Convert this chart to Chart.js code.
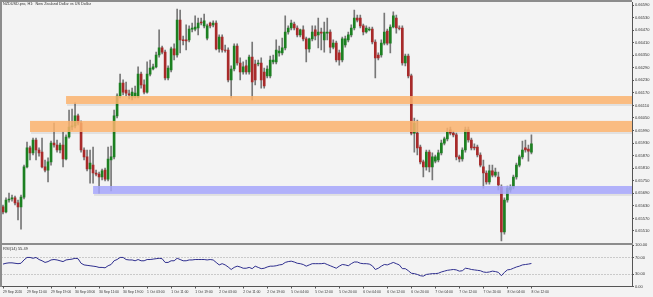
<!DOCTYPE html>
<html>
<head>
<meta charset="utf-8">
<script src="https://cdn.jsdelivr.net/npm/chart.js@4.4.1/dist/chart.umd.min.js"></script>
<style>
    html, body { margin: 0; padding: 0; background: #f3f3f3; }
    body { width: 653px; height: 297px; overflow: hidden; position: relative; font-family: 'Liberation Sans', Arial, sans-serif; }
    canvas { position: absolute; left: 0; }
    #mainCanvas { top: -3px; }
    #rsiCanvas { top: 240px; }
    .line { position: absolute; background: #8c8c8c; z-index: 2; }
    .caption { position: absolute; font-size: 4px; color: #333; white-space: nowrap; z-index: 3; }
</style>
</head>
<body>
<canvas id="mainCanvas" width="653" height="251"></canvas>
<canvas id="rsiCanvas" width="653" height="57"></canvas>
<div class="line" style="left:0;top:0;width:632px;height:1.5px;"></div>
<div class="line" style="left:0;top:0;width:1.5px;height:287px;"></div>
<div class="line" style="left:0;top:243px;width:633px;height:2px;"></div>
<div class="caption" style="left:3px;top:2px;font-size:3.8px;">NZDUSD.pro, H1:&nbsp; New Zealand Dollar vs US Dollar</div>
<div class="caption" style="left:3px;top:246px;">RSI(14) 55.49</div>
<script>
// ===== データ =====
const barCount = 210; // 表示スロット数（右側の余白を含む）

const timeLabels = [
    '29 Sep 2020', '29 Sep 11:00', '29 Sep 19:00', '30 Sep 03:00', '30 Sep 11:00', '30 Sep 19:00',
    '1 Oct 03:00', '1 Oct 11:00', '1 Oct 19:00', '2 Oct 03:00', '2 Oct 11:00', '2 Oct 19:00',
    '5 Oct 04:00', '5 Oct 12:00', '5 Oct 20:00', '6 Oct 04:00', '6 Oct 12:00', '6 Oct 20:00',
    '7 Oct 04:00', '7 Oct 12:00', '7 Oct 20:00', '8 Oct 04:00', '8 Oct 12:00',
];

const opens = [
    0.65625, 0.65601, 0.65658, 0.65663, 0.65668, 0.65644, 0.65625, 0.65672, 0.65816, 0.65907,
    0.65883, 0.65945, 0.65897, 0.65887, 0.65816, 0.65801, 0.65840, 0.65930, 0.65921, 0.65897,
    0.65921, 0.65854, 0.65959, 0.66007, 0.66012, 0.66060, 0.66026, 0.65897, 0.65864, 0.65806,
    0.65825, 0.65787, 0.65782, 0.65768, 0.65801, 0.65758, 0.65849, 0.65864, 0.66060, 0.66155,
    0.66217, 0.66184, 0.66165, 0.66150, 0.66155, 0.66150, 0.66260, 0.66208, 0.66174, 0.66260,
    0.66284, 0.66294, 0.66351, 0.66385, 0.66365, 0.66241, 0.66280, 0.66380, 0.66351, 0.66518,
    0.66423, 0.66423, 0.66423, 0.66475, 0.66475, 0.66480, 0.66509, 0.66490, 0.66432, 0.66504,
    0.66495, 0.66504, 0.66380, 0.66437, 0.66375, 0.66375, 0.66232, 0.66284, 0.66394, 0.66313,
    0.66270, 0.66299, 0.66270, 0.66341, 0.66308, 0.66308, 0.66313, 0.66270, 0.66251, 0.66251,
    0.66318, 0.66318, 0.66361, 0.66361, 0.66385, 0.66461, 0.66480, 0.66499, 0.66480, 0.66447,
    0.66471, 0.66428, 0.66380, 0.66428, 0.66471, 0.66447, 0.66461, 0.66423, 0.66456, 0.66461,
    0.66389, 0.66408, 0.66361, 0.66327, 0.66399, 0.66423, 0.66447, 0.66480, 0.66528, 0.66528,
    0.66490, 0.66461, 0.66471, 0.66475, 0.66413, 0.66351, 0.66351, 0.66408, 0.66466, 0.66408,
    0.66485, 0.66528, 0.66480, 0.66480, 0.66313, 0.66346, 0.66251, 0.65978, 0.65978, 0.65911,
    0.65840, 0.65816, 0.65887, 0.65816, 0.65844, 0.65849, 0.65883, 0.65930, 0.65950, 0.65993,
    0.65978, 0.65969, 0.65864, 0.65854, 0.65897, 0.65993, 0.65945, 0.65911, 0.65911, 0.65873,
    0.65816, 0.65787, 0.65744, 0.65797, 0.65777, 0.65768, 0.65720, 0.65505, 0.65658, 0.65706,
    0.65720, 0.65768, 0.65825, 0.65864, 0.65907, 0.65902, 0.65887,
];

const highs = [
    0.65634, 0.65668, 0.65691, 0.65682, 0.65677, 0.65658, 0.65682, 0.65825, 0.65935, 0.65916,
    0.65954, 0.65954, 0.65907, 0.65954, 0.65849, 0.65859, 0.65940, 0.66026, 0.65945, 0.65930,
    0.65983, 0.65969, 0.66088, 0.66093, 0.66122, 0.66069, 0.66036, 0.65907, 0.65897, 0.65897,
    0.65911, 0.65801, 0.65792, 0.65806, 0.65811, 0.65911, 0.65916, 0.66088, 0.66165, 0.66260,
    0.66232, 0.66222, 0.66184, 0.66193, 0.66203, 0.66294, 0.66270, 0.66232, 0.66318, 0.66327,
    0.66308, 0.66365, 0.66471, 0.66394, 0.66375, 0.66299, 0.66389, 0.66404, 0.66571, 0.66566,
    0.66442, 0.66495, 0.66490, 0.66504, 0.66538, 0.66528, 0.66528, 0.66547, 0.66499, 0.66509,
    0.66514, 0.66514, 0.66447, 0.66447, 0.66399, 0.66385, 0.66299, 0.66404, 0.66404, 0.66337,
    0.66318, 0.66327, 0.66351, 0.66413, 0.66327, 0.66327, 0.66337, 0.66289, 0.66299, 0.66346,
    0.66351, 0.66423, 0.66394, 0.66432, 0.66538, 0.66490, 0.66518, 0.66509, 0.66490, 0.66475,
    0.66490, 0.66437, 0.66432, 0.66490, 0.66490, 0.66528, 0.66480, 0.66509, 0.66528, 0.66471,
    0.66423, 0.66418, 0.66375, 0.66437, 0.66442, 0.66461, 0.66495, 0.66566, 0.66542, 0.66542,
    0.66499, 0.66490, 0.66485, 0.66485, 0.66423, 0.66361, 0.66423, 0.66552, 0.66475, 0.66495,
    0.66557, 0.66542, 0.66490, 0.66490, 0.66356, 0.66356, 0.66260, 0.66050, 0.66040, 0.65921,
    0.65849, 0.65897, 0.65897, 0.65883, 0.65873, 0.65897, 0.65945, 0.65959, 0.66002, 0.66007,
    0.65988, 0.65978, 0.65873, 0.65907, 0.66007, 0.66007, 0.65954, 0.65926, 0.65921, 0.65883,
    0.65849, 0.65797, 0.65825, 0.65825, 0.65811, 0.65792, 0.65730, 0.65668, 0.65725, 0.65730,
    0.65777, 0.65835, 0.65873, 0.65940, 0.65945, 0.65921, 0.65969,
];

const lows = [
    0.65591, 0.65596, 0.65648, 0.65653, 0.65634, 0.65563, 0.65519, 0.65663, 0.65811, 0.65849,
    0.65873, 0.65849, 0.65868, 0.65811, 0.65792, 0.65744, 0.65825, 0.65911, 0.65887, 0.65883,
    0.65816, 0.65849, 0.65954, 0.65993, 0.66002, 0.66017, 0.65887, 0.65849, 0.65797, 0.65739,
    0.65739, 0.65773, 0.65691, 0.65754, 0.65749, 0.65749, 0.65701, 0.65854, 0.66050, 0.66146,
    0.66160, 0.66155, 0.66141, 0.66136, 0.66146, 0.66146, 0.66193, 0.66165, 0.66169, 0.66251,
    0.66280, 0.66289, 0.66341, 0.66356, 0.66232, 0.66232, 0.66270, 0.66327, 0.66341, 0.66361,
    0.66399, 0.66375, 0.66413, 0.66461, 0.66466, 0.66447, 0.66495, 0.66480, 0.66423, 0.66480,
    0.66485, 0.66375, 0.66365, 0.66365, 0.66365, 0.66222, 0.66146, 0.66275, 0.66303, 0.66232,
    0.66260, 0.66260, 0.66260, 0.66136, 0.66208, 0.66299, 0.66193, 0.66193, 0.66241, 0.66241,
    0.66308, 0.66308, 0.66346, 0.66351, 0.66375, 0.66451, 0.66471, 0.66471, 0.66437, 0.66437,
    0.66418, 0.66318, 0.66365, 0.66418, 0.66423, 0.66385, 0.66375, 0.66365, 0.66423, 0.66361,
    0.66380, 0.66318, 0.66303, 0.66318, 0.66389, 0.66413, 0.66437, 0.66471, 0.66509, 0.66480,
    0.66447, 0.66456, 0.66466, 0.66404, 0.66241, 0.66327, 0.66341, 0.66399, 0.66399, 0.66361,
    0.66480, 0.66456, 0.66471, 0.66303, 0.66299, 0.66241, 0.65969, 0.65887, 0.65873, 0.65830,
    0.65768, 0.65801, 0.65792, 0.65754, 0.65835, 0.65840, 0.65873, 0.65921, 0.65940, 0.65969,
    0.65959, 0.65849, 0.65840, 0.65844, 0.65887, 0.65935, 0.65897, 0.65897, 0.65864, 0.65816,
    0.65715, 0.65734, 0.65734, 0.65768, 0.65768, 0.65706, 0.65462, 0.65495, 0.65648, 0.65696,
    0.65711, 0.65758, 0.65816, 0.65854, 0.65887, 0.65844, 0.65878,
];

const closes = [
    0.65601, 0.65658, 0.65663, 0.65668, 0.65644, 0.65625, 0.65672, 0.65816, 0.65907, 0.65883,
    0.65945, 0.65897, 0.65883, 0.65816, 0.65801, 0.65840, 0.65930, 0.65921, 0.65897, 0.65921,
    0.65854, 0.65959, 0.66007, 0.66012, 0.66060, 0.66026, 0.65897, 0.65864, 0.65806, 0.65835,
    0.65787, 0.65782, 0.65768, 0.65797, 0.65758, 0.65854, 0.65864, 0.66060, 0.66155, 0.66217,
    0.66174, 0.66169, 0.66160, 0.66174, 0.66169, 0.66260, 0.66208, 0.66174, 0.66260, 0.66289,
    0.66294, 0.66351, 0.66385, 0.66365, 0.66241, 0.66289, 0.66380, 0.66351, 0.66518, 0.66423,
    0.66420, 0.66418, 0.66475, 0.66480, 0.66485, 0.66504, 0.66504, 0.66514, 0.66490, 0.66490,
    0.66504, 0.66380, 0.66437, 0.66375, 0.66373, 0.66232, 0.66284, 0.66394, 0.66313, 0.66270,
    0.66294, 0.66270, 0.66341, 0.66222, 0.66232, 0.66313, 0.66232, 0.66203, 0.66284, 0.66327,
    0.66327, 0.66375, 0.66370, 0.66385, 0.66461, 0.66480, 0.66504, 0.66480, 0.66447, 0.66471,
    0.66428, 0.66380, 0.66428, 0.66461, 0.66442, 0.66461, 0.66456, 0.66461, 0.66461, 0.66389,
    0.66408, 0.66327, 0.66327, 0.66428, 0.66428, 0.66447, 0.66480, 0.66528, 0.66518, 0.66490,
    0.66461, 0.66480, 0.66475, 0.66413, 0.66337, 0.66337, 0.66408, 0.66461, 0.66408, 0.66485,
    0.66538, 0.66480, 0.66478, 0.66313, 0.66346, 0.66251, 0.65978, 0.66026, 0.65907, 0.65840,
    0.65816, 0.65887, 0.65816, 0.65864, 0.65864, 0.65883, 0.65930, 0.65950, 0.65983, 0.65978,
    0.65969, 0.65864, 0.65854, 0.65897, 0.65993, 0.65945, 0.65907, 0.65907, 0.65873, 0.65825,
    0.65787, 0.65744, 0.65797, 0.65777, 0.65792, 0.65730, 0.65505, 0.65658, 0.65715, 0.65720,
    0.65768, 0.65825, 0.65864, 0.65897, 0.65897, 0.65892, 0.65926,
];

const rsiValues = [
    54, 56, 57, 57, 56, 55, 56, 64, 70, 70,
    68, 70, 65, 62, 58, 60, 64, 65, 64, 62,
    60, 64, 65, 66, 68, 67, 56, 52, 51, 50,
    49, 48, 46, 46, 45, 50, 53, 62, 65, 70,
    70, 65, 64, 64, 62, 65, 62, 62, 65, 65,
    66, 67, 68, 67, 58, 58, 62, 62, 68, 65,
    62, 62, 64, 64, 65, 65, 65, 65, 64, 65,
    64, 58, 52, 55, 52, 47, 41, 46, 49, 47,
    44, 44, 46, 43, 49, 46, 43, 44, 47, 49,
    49, 50, 52, 53, 58, 60, 61, 59, 56, 55,
    53, 49, 52, 55, 55, 55, 55, 56, 53, 50,
    47, 44, 49, 53, 52, 50, 55, 59, 59, 56,
    55, 55, 54, 50, 41, 44, 49, 53, 52, 55,
    58, 55, 52, 43, 43, 38, 32, 31, 29, 26,
    25, 29, 30, 31, 31, 32, 35, 37, 39, 40,
    41, 40, 37, 38, 44, 43, 41, 40, 39, 38,
    35, 34, 35, 37, 36, 34, 26, 34, 40, 41,
    44, 47, 49, 52, 53, 54, 55.49,
];

const priceTicks = [
    0.66590, 0.66530, 0.66470, 0.66410, 0.66350, 0.66290, 0.66230, 0.66170, 0.66110, 0.66050,
    0.65990, 0.65930, 0.65870, 0.65810, 0.65750, 0.65690, 0.65630, 0.65570, 0.65510,
];
const rsiTicks = [0, 30, 70, 100];

// 水平ゾーン（サポート/レジスタンス）
const zoneStarts = [21, 9, 30];
const zoneTops = [0.66155, 0.66036, 0.65725];
const zoneBottoms = [0.66117, 0.65983, 0.65687];
const zoneColors = ['rgba(250,178,108,0.85)', 'rgba(250,178,108,0.85)', 'rgba(165,165,250,0.85)'];

// ===== 描画 =====
const FONT = { family: "'Liberation Sans', Arial, sans-serif", size: 4 };
const TIME_FONT = { family: "'Liberation Sans', Arial, sans-serif", size: 3.4 };
const BULL = '#1c8021';
const BEAR = '#a82a2a';
const categories = Array.from({ length: barCount }, (_, i) => i);
const candleColors = closes.map((c, i) => (c >= opens[i] ? BULL : BEAR));

// ゾーン描画プラグイン
const zonePlugin = {
    id: 'zones',
    afterDatasetsDraw: (chart) => {
        const { ctx, chartArea, scales } = chart;
        ctx.save();
        zoneStarts.forEach((start, i) => {
            const x0 = scales.x.getPixelForValue(start);
            const yTop = scales.y.getPixelForValue(zoneTops[i]);
            const yBottom = scales.y.getPixelForValue(zoneBottoms[i]);
            // 影
            ctx.fillStyle = 'rgba(0,0,0,0.08)';
            ctx.fillRect(x0 + 1, yBottom, chartArea.right - x0 - 1, 2);
            ctx.fillStyle = zoneColors[i];
            ctx.fillRect(x0, yTop, chartArea.right - x0, yBottom - yTop);
        });
        ctx.restore();
    },
};

const fixedWidth = (w) => (scale) => { scale.width = w; };

new Chart(document.getElementById('mainCanvas'), {
    type: 'bar',
    data: {
        labels: categories,
        datasets: [
            {
                label: 'body',
                data: opens.map((o, i) => [o, closes[i]]),
                backgroundColor: candleColors,
                barThickness: 2,
                grouped: false,
                order: 0,
            },
            {
                label: 'wick',
                data: lows.map((l, i) => [l, highs[i]]),
                backgroundColor: '#777777',
                barThickness: 1,
                grouped: false,
                order: 1,
            },
        ],
    },
    options: {
        responsive: false,
        devicePixelRatio: 1,
        animation: false,
        layout: { padding: { top: 5, bottom: 5, left: 1.5, right: 0 } },
        plugins: { legend: { display: false }, tooltip: { enabled: false } },
        scales: {
            x: { display: false },
            y: {
                position: 'right',
                min: 0.654525,
                max: 0.666044,
                afterFit: fixedWidth(21),
                afterBuildTicks: (scale) => { scale.ticks = priceTicks.map((v) => ({ value: v })); },
                ticks: { font: FONT, color: '#333', padding: 1, callback: (v) => Number(v).toFixed(5) },
                grid: { drawOnChartArea: false, tickLength: 2, color: '#555' },
                border: { display: true, color: '#555', width: 1 },
            },
        },
    },
    plugins: [zonePlugin],
});

new Chart(document.getElementById('rsiCanvas'), {
    type: 'line',
    data: {
        labels: categories,
        datasets: [
            {
                label: 'RSI(14)',
                data: rsiValues,
                borderColor: '#2e2e8e',
                borderWidth: 1,
                pointRadius: 0,
                tension: 0,
            },
        ],
    },
    options: {
        responsive: false,
        devicePixelRatio: 1,
        animation: false,
        layout: { padding: { top: 5, bottom: 0, left: 1.5, right: 0 } },
        plugins: { legend: { display: false }, tooltip: { enabled: false } },
        scales: {
            x: {
                offset: true,
                afterFit: (scale) => { scale.height = 10.5; },
                ticks: {
                    font: TIME_FONT,
                    color: '#333',
                    padding: 1.5,
                    autoSkip: false,
                    maxRotation: 0,
                    align: 'start',
                    callback: (v, i) => (i % 8 === 0 && timeLabels[i / 8]) || '',
                },
                grid: {
                    offset: false,
                    drawOnChartArea: false,
                    tickLength: 2,
                    tickColor: (c) => (c.index % 8 === 0 && c.index / 8 < timeLabels.length ? '#555' : 'transparent'),
                },
                border: { display: true, color: '#555', width: 1 },
            },
            y: {
                position: 'right',
                min: 0,
                max: 100,
                afterFit: fixedWidth(21),
                afterBuildTicks: (scale) => { scale.ticks = rsiTicks.map((v) => ({ value: v })); },
                ticks: { font: FONT, color: '#333', padding: 1, callback: (v) => Number(v).toFixed(2) },
                grid: {
                    color: (c) => (c.tick && (c.tick.value === 30 || c.tick.value === 70) ? '#a0a0a0' : 'transparent'),
                    tickColor: '#555',
                    tickLength: 2,
                },
                border: { display: true, color: '#555', width: 1, dash: [1, 2] },
            },
        },
    },
});
</script>
</body>
</html>
